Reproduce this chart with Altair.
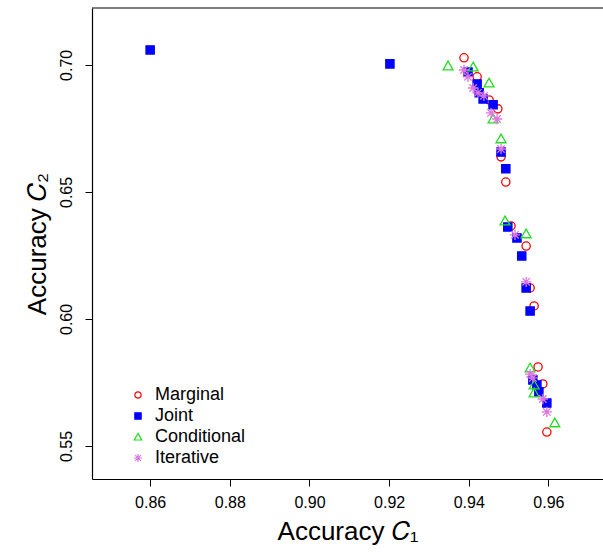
import altair as alt
import pandas as pd

methods = ["Marginal", "Joint", "Conditional", "Iterative"]

marginal_x = [0.9388, 0.9421, 0.9451, 0.9473, 0.9481, 0.9493, 0.9506, 0.9544, 0.9554, 0.9564, 0.9574, 0.9586, 0.9596]
marginal_y = [0.7028, 0.6953, 0.6862, 0.6827, 0.6638, 0.6539, 0.6366, 0.6287, 0.6122, 0.6051, 0.5811, 0.5744, 0.5555]

joint_x = [0.8600, 0.9202, 0.9398, 0.9421, 0.9426, 0.9436, 0.9461, 0.9481, 0.9493, 0.9498, 0.9521, 0.9533, 0.9544, 0.9554, 0.9561, 0.9571, 0.9576, 0.9596]
joint_y = [0.7059, 0.7004, 0.6972, 0.6925, 0.6890, 0.6866, 0.6843, 0.6657, 0.6591, 0.6362, 0.6319, 0.6248, 0.6122, 0.6031, 0.5760, 0.5740, 0.5713, 0.5669]

conditional_x = [0.9348, 0.9411, 0.9451, 0.9461, 0.9481, 0.9491, 0.9544, 0.9554, 0.9564, 0.9564, 0.9616]
conditional_y = [0.6996, 0.6992, 0.6929, 0.6787, 0.6709, 0.6386, 0.6335, 0.5807, 0.5740, 0.5709, 0.5591]

iterative_x = [0.9388, 0.9398, 0.9411, 0.9423, 0.9438, 0.9456, 0.9471, 0.9481, 0.9516, 0.9544, 0.9554, 0.9561, 0.9586, 0.9596]
iterative_y = [0.6980, 0.6953, 0.6909, 0.6890, 0.6878, 0.6811, 0.6787, 0.6669, 0.6331, 0.6146, 0.5783, 0.5768, 0.5685, 0.5634]

x_ticks = [0.86, 0.88, 0.90, 0.92, 0.94, 0.96]
y_ticks = [0.55, 0.60, 0.65, 0.70]

rows = []
for i, (name, xs, ys) in enumerate([("Marginal", marginal_x, marginal_y), ("Joint", joint_x, joint_y),
                                    ("Conditional", conditional_x, conditional_y),
                                    ("Iterative", iterative_x, iterative_y)]):
    for a, b in zip(xs, ys):
        rows.append({"method": name, "acc1": a, "acc2": b, "ord": i})
df = pd.DataFrame(rows)

asterisk = "M-1.25,0L1.25,0M0,-1.25L0,1.25M-0.9,-0.9L0.9,0.9M-0.9,0.9L0.9,-0.9"
triangle = "M0,-1.15L1.2,0.95L-1.2,0.95Z"
colors = ["#FF0000", "#0000FF", "#22DD22", "#DD77DD"]
fills = ["transparent", "#0000FF", "transparent", "transparent"]
shapes = ["circle", "square", triangle, asterisk]

font = "Liberation Sans"
W, H = 511, 471

points = alt.Chart(df).mark_point(size=68, strokeWidth=1.3, opacity=1).encode(
    x=alt.X("acc1:Q", scale=alt.Scale(domain=[0.8454, 0.9737], nice=False, zero=False),
            axis=alt.Axis(values=x_ticks, format=".2f", title="Accuracy  𝐶₁", grid=False,
                          tickSize=7, tickColor="black", tickWidth=1,
                          domain=True, domainColor="black", domainWidth=1.2,
                          labelFontSize=16, labelColor="black", labelFont=font, labelPadding=8,
                          titleFontSize=26, titleFont=font, titleFontWeight="normal", titleColor="black",
                          titlePadding=8)),
    y=alt.Y("acc2:Q", scale=alt.Scale(domain=[0.537, 0.7224], nice=False, zero=False),
            axis=alt.Axis(values=y_ticks, format=".2f", title="Accuracy  𝐶₂", grid=False,
                          tickSize=7, tickColor="black", tickWidth=1,
                          domain=True, domainColor="black", domainWidth=1.2,
                          labelAngle=-90, labelAlign="center", labelBaseline="bottom",
                          labelFontSize=16, labelColor="black", labelFont=font, labelPadding=11,
                          titleFontSize=26, titleFont=font, titleFontWeight="normal", titleColor="black",
                          titlePadding=8)),
    color=alt.Color("method:N", scale=alt.Scale(domain=methods, range=colors), title=None,
                    legend=alt.Legend(orient="none", legendX=37, legendY=378)),
    fill=alt.Fill("method:N", scale=alt.Scale(domain=methods, range=fills), title=None),
    shape=alt.Shape("method:N", scale=alt.Scale(domain=methods, range=shapes), title=None),
    order=alt.Order("ord:Q"),
)

top_line = alt.Chart(pd.DataFrame({"k": [0]})).mark_rule(color="black", strokeWidth=1.2).encode(
    x=alt.value(0), x2=alt.value(W), y=alt.value(0)
)

chart = alt.layer(points, top_line).properties(
    width=W, height=H,
    padding={"left": 92, "top": 8, "right": 0, "bottom": 552 - 8 - H},
    autosize=alt.AutoSizeParams(type="none"),
).configure_view(
    stroke=None
).configure_legend(
    labelFontSize=18, labelFont=font, labelColor="black",
    symbolSize=40, symbolStrokeWidth=1.2, rowPadding=3, labelOffset=8,
)

chart.save("out.html", embed_options={"renderer": "svg", "actions": False})
